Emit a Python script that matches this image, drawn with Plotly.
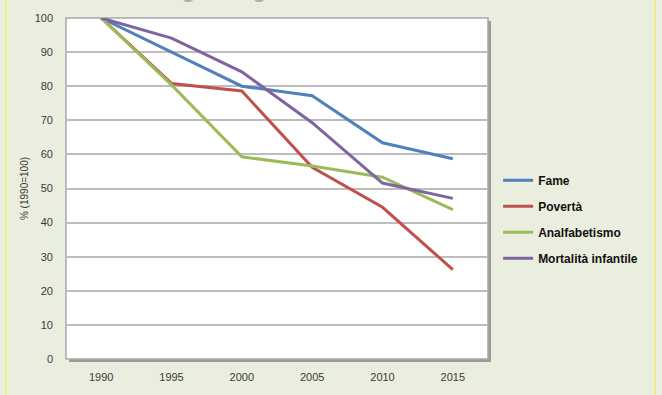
import plotly.graph_objects as go

years = ["1990", "1995", "2000", "2005", "2010", "2015"]
fame = [100, 90, 80, 77.2, 63.4, 58.7]
poverta = [100, 80.8, 78.6, 56.2, 44.5, 26.2]
analfabetismo = [100, 80.4, 59.3, 56.6, 53.3, 43.8]
mortalita = [100, 94.1, 84.2, 69.3, 51.6, 47.1]

series_names = ["Fame", "Povertà", "Analfabetismo", "Mortalità infantile"]
series_values = [fame, poverta, analfabetismo, mortalita]
colors = ["#4F81BD", "#C0504D", "#9BBB59", "#8064A2"]

y_ticks = [0, 10, 20, 30, 40, 50, 60, 70, 80, 90, 100]

fig = go.Figure()
for i, (name, vals, c) in enumerate(zip(series_names, series_values, colors)):
    fig.add_trace(go.Scatter(x=years, y=vals, name=name, mode="lines",
                             legendgroup=f"g{i}",
                             line=dict(color=c, width=3)))

W, H = 662, 395
L, R, T, B = 66, 174, 18, 36
pw, ph = W - L - R, H - T - B
dx, dy = 3 / pw, 3 / ph

fig.update_layout(
    width=W, height=H,
    margin=dict(l=L, r=R, t=T, b=B),
    paper_bgcolor="#EAEEDE",
    plot_bgcolor="rgba(0,0,0,0)",
    font=dict(family="Liberation Sans, Arial, sans-serif", size=11, color="#3a3a3a"),
    showlegend=True,
    legend=dict(x=1.024, y=0.41, xanchor="left", yanchor="middle",
                font=dict(size=12, color="#111", family="Liberation Sans, Arial, sans-serif", weight="bold"),
                bgcolor="rgba(0,0,0,0)", tracegroupgap=7, itemwidth=30, traceorder="grouped"),
    shapes=[
        dict(type="rect", xref="paper", yref="paper", x0=dx, x1=1 + dx, y0=-dy, y1=1 - dy,
             fillcolor="#9a9a9a", line=dict(width=0), layer="below"),
        dict(type="rect", xref="paper", yref="paper", x0=0, x1=1, y0=0, y1=1,
             fillcolor="white", line=dict(color="#a8a8a8", width=1.5), layer="below"),
        dict(type="line", xref="paper", yref="paper", x0=-L / pw + 6 / pw, x1=-L / pw + 6 / pw,
             y0=-B / ph, y1=1 + T / ph, line=dict(color="#F2F08A", width=2), layer="below"),
        dict(type="line", xref="paper", yref="paper", x0=1 + (R - 7) / pw, x1=1 + (R - 7) / pw,
             y0=-B / ph, y1=1 + T / ph, line=dict(color="#EDEB8A", width=2), layer="below"),
    ],
    annotations=[
        dict(text="Progressi globali 1990 - 2015", xref="paper", yref="paper",
             x=0.545, y=1 + 14 / ph, xanchor="center", yanchor="bottom",
             showarrow=False, font=dict(size=22, color="#b0b0b0", family="Liberation Sans, Arial, sans-serif", weight="bold")),
    ],
)

fig.update_xaxes(type="category", range=[-0.5, 5.5], showgrid=False,
                 showline=False, ticks="", ticklabelstandoff=10,
                 tickfont=dict(size=11, color="#3a3a3a"), zeroline=False)
fig.update_yaxes(range=[0, 100], tickvals=y_ticks, showgrid=True,
                 gridcolor="#BDBDBD", gridwidth=2, zeroline=False, showline=False,
                 ticks="", ticklabelstandoff=12, tickfont=dict(size=11, color="#3a3a3a"),
                 title=dict(text="% (1990=100)", font=dict(size=10, color="#3a3a3a"), standoff=4))

fig.write_html("out.html", config={"displayModeBar": False},
               post_script="document.body.style.margin='0';document.body.style.overflow='hidden';")
